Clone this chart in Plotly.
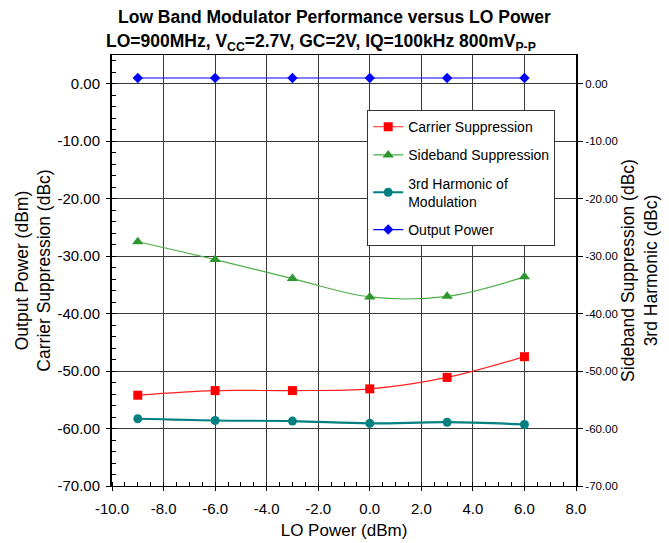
import plotly.graph_objects as go

lo_power = [-9, -6, -3, 0, 3, 6]
carrier_suppression = [-54.2, -53.4, -53.4, -53.1, -51.1, -47.5]
sideband_suppression = [-27.5, -30.6, -33.9, -37.1, -37.0, -33.6]
third_harmonic = [-58.3, -58.6, -58.7, -59.1, -58.9, -59.3]
output_power = [1.0, 1.0, 1.0, 1.0, 1.0, 1.0]

x_ticks = [-10, -8, -6, -4, -2, 0, 2, 4, 6, 8]
y_ticks = [0, -10, -20, -30, -40, -50, -60, -70]

FONT = "Liberation Sans, Arial, Helvetica, sans-serif"

fig = go.Figure()
fig.add_trace(go.Scatter(
    x=lo_power, y=carrier_suppression, name="Carrier Suppression",
    mode="lines+markers", line=dict(color="#FF2020", width=1.2, shape="spline", smoothing=1.0),
    marker=dict(symbol="square", size=9, color="#FF0000"), legendgroup="a"))
fig.add_trace(go.Scatter(
    x=lo_power, y=sideband_suppression, name="Sideband Suppression",
    mode="lines+markers", line=dict(color="#4DAF4A", width=1.2, shape="spline", smoothing=1.0),
    marker=dict(symbol="triangle-up", size=10, color="#2E962E"), legendgroup="b", yaxis="y2"))
fig.add_trace(go.Scatter(
    x=lo_power, y=third_harmonic, name="3rd Harmonic of<br>Modulation",
    mode="lines+markers", line=dict(color="#008080", width=2.2, shape="spline", smoothing=1.0),
    marker=dict(symbol="circle", size=9, color="#008080"), legendgroup="c", yaxis="y2"))
fig.add_trace(go.Scatter(
    x=lo_power, y=output_power, name="Output Power",
    mode="lines+markers", line=dict(color="#0000FF", width=1.2),
    marker=dict(symbol="diamond", size=8, color="#0000FF"), legendgroup="d"))

fig.update_layout(
    width=669, height=543,
    margin=dict(l=112, r=93, t=55, b=57),
    paper_bgcolor="white", plot_bgcolor="white",
    font=dict(family=FONT, size=15, color="black"),
    xaxis=dict(
        range=[-10, 8], tickvals=x_ticks, ticktext=[f"{v:.1f}" for v in x_ticks],
        showgrid=True, gridcolor="#3a3a3a", gridwidth=1,
        showline=True, linecolor="black", linewidth=1, mirror=True,
        ticks="outside", ticklen=4, tickcolor="black", ticklabelstandoff=5,
        minor=dict(dtick=0.5, ticks="inside", ticklen=4, tickcolor="black", showgrid=False),
        zeroline=False, automargin=False,
        title=dict(text="LO Power (dBm)", font=dict(size=17), standoff=8),
        tickfont=dict(size=15)),
    yaxis=dict(
        range=[-70, 5], tickvals=y_ticks, ticktext=[f"{v:.2f}" for v in y_ticks],
        showgrid=True, gridcolor="#3a3a3a", gridwidth=1,
        showline=True, linecolor="black", linewidth=2,
        ticks="outside", ticklen=4, tickcolor="black", ticklabelstandoff=3,
        minor=dict(dtick=2, ticks="inside", ticklen=4, tickcolor="black", showgrid=False),
        zeroline=False, automargin=False,
        title=dict(text="Output Power (dBm)<br>Carrier Suppression (dBc)", font=dict(size=17.5), standoff=2),
        tickfont=dict(size=15)),
    yaxis2=dict(
        range=[-70, 5], tickvals=y_ticks, ticktext=[f"{v:.2f}" for v in y_ticks],
        overlaying="y", side="right", showgrid=False,
        showline=True, linecolor="black", linewidth=2,
        ticks="outside", ticklen=5, tickcolor="black", zeroline=False, automargin=False,
        title=dict(text="Sideband Suppression (dBc)<br>3rd Harmonic (dBc)", font=dict(size=17.5), standoff=4),
        tickfont=dict(size=11.5)),
    legend=dict(
        x=0.55, y=0.872, xanchor="left", yanchor="top",
        bgcolor="white", bordercolor="#333333", borderwidth=1,
        font=dict(size=14), tracegroupgap=7, traceorder="grouped",
        itemwidth=30),
    showlegend=True,
    annotations=[
        dict(text="<b>Low Band Modulator Performance versus LO Power</b>",
             xref="paper", yref="paper", x=0.48, y=1.088, xanchor="center", yanchor="middle",
             showarrow=False, font=dict(size=17.5)),
        dict(text="<b>LO=900MHz, V<sub>CC</sub>=2.7V, GC=2V, IQ=100kHz 800mV<sub>P-P</sub></b>",
             xref="paper", yref="paper", x=0.45, y=1.028, xanchor="center", yanchor="middle",
             showarrow=False, font=dict(size=17.5)),
    ],
)

fig.write_html("out.html", config={"displayModeBar": False},
               post_script="document.body.style.margin='0';")
